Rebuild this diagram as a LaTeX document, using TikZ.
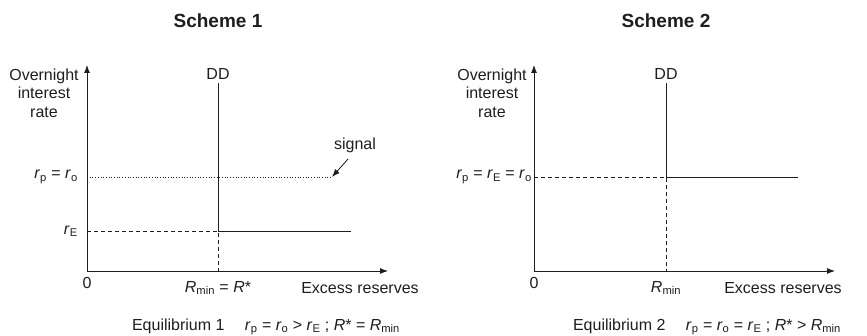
\documentclass[tikz,border=0pt]{standalone}
\usepackage{fontspec}
\setmainfont{Liberation Sans}
\usepackage{xcolor}
\usetikzlibrary{arrows.meta,positioning}
\definecolor{inkgrey}{RGB}{30, 30, 30}
\newcommand{\rv}[2]{\textit{#1}\textsubscript{#2}}

\begin{document}
\begin{tikzpicture}[x=1pt, y=1pt,
    every node/.style={font=\fontsize{16}{18.5}\selectfont, text=inkgrey, inner sep=0pt},
    axis/.style={-{Latex[length=8pt,width=6pt]}, line width=0.9pt, draw=inkgrey},
    curve/.style={line width=0.9pt, draw=inkgrey},
    guide/.style={line width=0.8pt, draw=inkgrey, dash pattern=on 4pt off 3pt},
    fine/.style={line width=0.7pt, draw=inkgrey, dotted},
    title/.style={font=\bfseries\fontsize{19}{22}\selectfont}]
    \useasboundingbox (0,0) rectangle (867,336);

    % Scheme 1
    \node[title] (t1) at (218,315) {Scheme 1};
    \coordinate (o1) at (87,65);
    \coordinate (ytop1) at (87,271);
    \coordinate (xend1) at (388,65);
    \coordinate (ddtop1) at (218,253);
    \coordinate (e1) at (218,105);
    \coordinate (eend1) at (351,105);
    \coordinate (ey1) at (87,105);
    \coordinate (ex1) at (218,65);
    \coordinate (p1) at (87,159);
    \coordinate (pend1) at (332,159);
    \coordinate (sigfrom) at (348,177);
    \draw[axis] (o1) -- (ytop1);
    \draw[axis] (o1) -- (xend1);
    \draw[curve] (ddtop1) -- (e1) -- (eend1);
    \draw[guide] (ey1) -- (e1) -- (ex1);
    \draw[fine] (p1) -- (pend1);
    \draw[-{Latex[length=8pt,width=6pt]}, line width=0.8pt, draw=inkgrey] (sigfrom) -- (pend1);
    \node (sig1) at (355,191) {signal};
    \node[align=center] (yl1) at (44,243) {Overnight\\interest\\rate};
    \node (dd1) at (218,262) {DD};
    \node[anchor=east] (lp1) at (78,159) {\rv{r}{p} = \rv{r}{o}};
    \node[anchor=east] (le1) at (78,105) {\rv{r}{E}};
    \node (z1) at (87,53) {0};
    \node (rm1) at (218,48) {\rv{R}{min} = \textit{R}*};
    \node (xl1) at (360,48) {Excess reserves};
    \node (eq1) at (266,9) {Equilibrium 1\quad\ \rv{r}{p} = \rv{r}{o} > \rv{r}{E} ; \textit{R}* = \rv{R}{min}};

    % Scheme 2
    \node[title] (t2) at (666,315) {Scheme 2};
    \coordinate (o2) at (534,65);
    \coordinate (ytop2) at (534,271);
    \coordinate (xend2) at (835,65);
    \coordinate (ddtop2) at (666,253);
    \coordinate (e2) at (666,159);
    \coordinate (eend2) at (798,159);
    \coordinate (ey2) at (534,159);
    \coordinate (ex2) at (666,65);
    \draw[axis] (o2) -- (ytop2);
    \draw[axis] (o2) -- (xend2);
    \draw[curve] (ddtop2) -- (e2) -- (eend2);
    \draw[guide] (ey2) -- (e2) -- (ex2);
    \node[align=center] (yl2) at (492,243) {Overnight\\interest\\rate};
    \node (dd2) at (666,262) {DD};
    \node[anchor=east] (lp2) at (532,159) {\rv{r}{p} = \rv{r}{E} = \rv{r}{o}};
    \node (z2) at (534,53) {0};
    \node (rm2) at (666,48) {\rv{R}{min}};
    \node (xl2) at (783,48) {Excess reserves};
    \node (eq2) at (707,9) {Equilibrium 2\quad\ \rv{r}{p} = \rv{r}{o} = \rv{r}{E} ; \textit{R}* > \rv{R}{min}};
\end{tikzpicture}
\end{document}
